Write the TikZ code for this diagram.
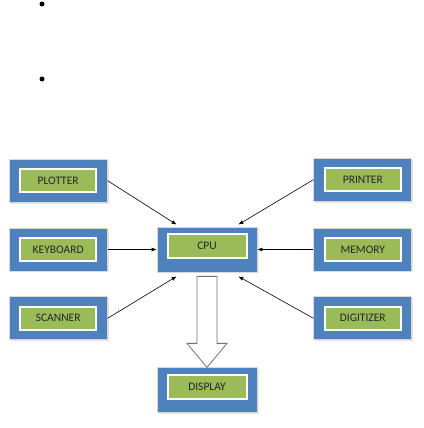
\documentclass[tikz,border=0pt]{standalone}
\usepackage{fontspec}
\setmainfont{Carlito}
\usetikzlibrary{positioning, arrows.meta, shadows}

\definecolor{boxblue}{HTML}{4F81BD}
\definecolor{boxgreen}{HTML}{9BBB59}

\begin{document}
\begin{tikzpicture}[
		x=1pt, y=1pt,
		node distance=25pt and 49pt,
		box/.style={rectangle, fill=boxblue, draw=black!15, line width=0.8pt, minimum width=98pt, minimum height=43pt, inner sep=0pt,
			font=\fontsize{11.5}{13}\selectfont, text=black!85,
			drop shadow={shadow xshift=1.5pt, shadow yshift=-1.5pt, opacity=0.2},
			path picture={
				\fill[white] ([shift={(10pt,-9pt)}]path picture bounding box.north west) rectangle ([shift={(-10pt,9pt)}]path picture bounding box.south east);
				\fill[boxgreen] ([shift={(12pt,-11pt)}]path picture bounding box.north west) rectangle ([shift={(-12pt,11pt)}]path picture bounding box.south east);
			}},
		boxup/.style={box, minimum width=100pt, minimum height=45pt, text depth=7pt,
			path picture={
				\fill[white] ([shift={(10pt,-6pt)}]path picture bounding box.north west) rectangle ([shift={(-9pt,13pt)}]path picture bounding box.south east);
				\fill[boxgreen] ([shift={(12pt,-8pt)}]path picture bounding box.north west) rectangle ([shift={(-11pt,15pt)}]path picture bounding box.south east);
			}},
		dot/.style={circle, fill=black, inner sep=0pt, minimum size=5pt},
		arrow/.style={-{Latex[length=5pt, width=4pt]}, line width=0.6pt},
		blockarrow/.style={draw=black!55, line width=0.8pt, fill=white}
	]
	\useasboundingbox (0,0) rectangle (423,428);

	% Bullets
	\node[dot] (dotA) at (42,424) {};
	\node[dot] (dotB) at (42,349) {};

	% Nodes
	\node[boxup] (cpu) at (207,178.5) {CPU};
	\node[box] (keyboard) [left=of cpu] {KEYBOARD};
	\node[box] (plotter) [above=of keyboard] {PLOTTER};
	\node[box] (scanner) [below=of keyboard] {SCANNER};
	\node[box] (memory) [right=56pt of cpu] {MEMORY};
	\node[box] (printer) [above=26pt of memory] {PRINTER};
	\node[box] (digitizer) [below=of memory] {DIGITIZER};
	\node[boxup] (display) [below=95pt of cpu] {DISPLAY};

	% Connections
	\draw[arrow] (plotter.east) -- ([xshift=20pt, yshift=2pt]cpu.north west);
	\draw[arrow] (keyboard.east) -- (cpu.west);
	\draw[arrow] (scanner.east) -- ([xshift=20pt, yshift=-4pt]cpu.south west);

	\draw[arrow] (printer.west) -- ([xshift=-19pt, yshift=2pt]cpu.north east);
	\draw[arrow] (memory.west) -- (cpu.east);
	\draw[arrow] (digitizer.west) -- ([xshift=-19pt, yshift=-4pt]cpu.south east);

	\draw[blockarrow] ([xshift=-10pt, yshift=-4pt]cpu.south) -- ([xshift=-10pt, yshift=24pt]display.north)
		-- ([xshift=-20pt, yshift=24pt]display.north) -- (display.north)
		-- ([xshift=20pt, yshift=24pt]display.north) -- ([xshift=10pt, yshift=24pt]display.north)
		-- ([xshift=10pt, yshift=-4pt]cpu.south) -- cycle;

\end{tikzpicture}
\end{document}
